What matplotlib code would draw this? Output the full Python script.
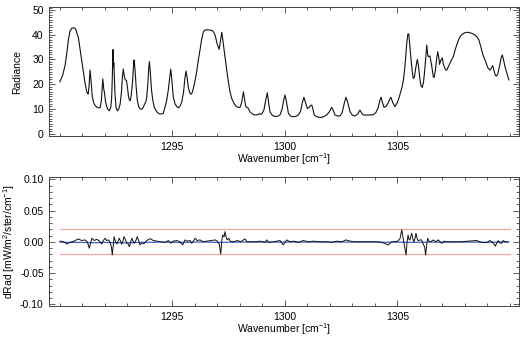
import numpy as np
import matplotlib
matplotlib.use('Agg')
import matplotlib.pyplot as plt
from matplotlib.ticker import MultipleLocator, FixedLocator

plt.rcParams['font.family'] = ['Liberation Sans', 'DejaVu Sans']
plt.rcParams['mathtext.fontset'] = 'custom'
plt.rcParams['mathtext.rm'] = 'Liberation Sans'
plt.rcParams['mathtext.default'] = 'regular'

# top panel: radiance spectrum
wn = [1290.00, 1290.12, 1290.23, 1290.30, 1290.38, 1290.45, 1290.53, 1290.62, 1290.70, 1290.78,
      1290.82, 1290.90, 1290.97, 1291.05, 1291.12, 1291.18, 1291.22, 1291.26, 1291.30, 1291.34,
      1291.38, 1291.44, 1291.50, 1291.57, 1291.65, 1291.72, 1291.79, 1291.84, 1291.88, 1291.91,
      1291.95, 1291.98, 1292.03, 1292.08, 1292.14, 1292.20, 1292.26, 1292.30, 1292.33, 1292.36,
      1292.38, 1292.40, 1292.45, 1292.50, 1292.56, 1292.62, 1292.68, 1292.74, 1292.78, 1292.82,
      1292.86, 1292.90, 1292.96, 1293.00, 1293.05, 1293.09, 1293.13, 1293.18, 1293.24, 1293.28,
      1293.30, 1293.34, 1293.39, 1293.44, 1293.50, 1293.57, 1293.64, 1293.70, 1293.76, 1293.82,
      1293.86, 1293.91, 1293.95, 1293.98, 1294.02, 1294.07, 1294.13, 1294.20, 1294.31, 1294.40,
      1294.50, 1294.60, 1294.68, 1294.75, 1294.82, 1294.88, 1294.93, 1294.98, 1295.04, 1295.12,
      1295.20, 1295.27, 1295.35, 1295.42, 1295.50, 1295.56, 1295.61, 1295.66, 1295.71, 1295.76,
      1295.82, 1295.88, 1295.93, 1296.00, 1296.08, 1296.15, 1296.23, 1296.30, 1296.38, 1296.45,
      1296.60, 1296.72, 1296.80, 1296.90, 1297.00, 1297.08, 1297.14, 1297.20, 1297.27, 1297.34,
      1297.42, 1297.49, 1297.56, 1297.64, 1297.74, 1297.83, 1297.92, 1298.01, 1298.08, 1298.16,
      1298.21, 1298.26, 1298.32, 1298.36, 1298.45, 1298.56, 1298.68, 1298.78, 1298.87, 1298.97,
      1299.07, 1299.15, 1299.22, 1299.28, 1299.34, 1299.45, 1299.56, 1299.68, 1299.79, 1299.88,
      1299.95, 1300.01, 1300.07, 1300.16, 1300.27, 1300.38, 1300.50, 1300.60, 1300.70, 1300.78,
      1300.85, 1300.92, 1301.00, 1301.08, 1301.14, 1301.20, 1301.26, 1301.31, 1301.42, 1301.56,
      1301.70, 1301.86, 1301.98, 1302.08, 1302.15, 1302.23, 1302.35, 1302.45, 1302.55, 1302.65,
      1302.72, 1302.80, 1302.90, 1303.00, 1303.12, 1303.25, 1303.34, 1303.42, 1303.49, 1303.70,
      1303.93, 1304.05, 1304.15, 1304.23, 1304.28, 1304.34, 1304.41, 1304.50, 1304.60, 1304.68,
      1304.72, 1304.80, 1304.90, 1305.00, 1305.08, 1305.14, 1305.20, 1305.27, 1305.34, 1305.42,
      1305.47, 1305.51, 1305.55, 1305.60, 1305.66, 1305.71, 1305.76, 1305.82, 1305.89, 1305.94,
      1306.01, 1306.06, 1306.11, 1306.16, 1306.20, 1306.26, 1306.31, 1306.35, 1306.38, 1306.45,
      1306.52, 1306.60, 1306.64, 1306.70, 1306.76, 1306.80, 1306.85, 1306.88, 1306.93, 1307.00,
      1307.05, 1307.09, 1307.15, 1307.20, 1307.27, 1307.34, 1307.42, 1307.49, 1307.56, 1307.64,
      1307.72, 1307.79, 1307.90, 1308.01, 1308.12, 1308.23, 1308.35, 1308.45, 1308.55, 1308.63,
      1308.70, 1308.75, 1308.82, 1308.90, 1308.97, 1309.04, 1309.12, 1309.18, 1309.24, 1309.30,
      1309.36, 1309.42, 1309.48, 1309.55, 1309.62, 1309.67, 1309.72, 1309.79, 1309.87, 1309.96]
rad = [21.0, 23.5, 27.5, 32.0, 38.0, 41.5, 42.6, 42.8, 42.3, 40.0,
       39.0, 34.0, 29.8, 24.5, 20.3, 17.5, 16.3, 16.0, 19.5, 25.7,
       22.0, 14.9, 12.5, 11.3, 10.7, 10.4, 10.5, 13.0, 18.5, 22.1,
       18.0, 16.8, 13.0, 11.0, 9.7, 9.2, 10.5, 14.0, 22.0, 34.0,
       27.0, 28.5, 16.0, 10.5, 9.2, 10.0, 12.0, 17.0, 23.0, 26.1,
       23.5, 21.8, 21.5, 19.0, 15.0, 13.6, 13.3, 16.0, 22.0, 28.5,
       29.8, 26.0, 19.0, 13.6, 11.0, 10.0, 9.8, 10.5, 11.8, 12.8,
       14.5, 20.0, 26.5, 29.1, 25.0, 18.0, 13.5, 10.5, 8.8, 8.0,
       7.9, 8.2, 10.9, 13.5, 17.6, 22.5, 26.0, 21.5, 14.9, 12.0,
       10.9, 10.4, 11.2, 12.8, 17.0, 22.5, 25.3, 22.5, 18.7, 16.8,
       15.9, 16.5, 18.2, 21.0, 25.0, 29.5, 33.8, 38.0, 41.2, 41.9,
       42.0, 41.8, 41.5, 39.9, 36.0, 34.1, 37.5, 41.0, 36.0, 31.1,
       25.5, 21.0, 17.0, 14.2, 12.2, 11.1, 10.6, 10.6, 12.5, 16.9,
       14.0, 11.1, 10.5, 10.4, 8.8, 7.9, 7.5, 7.6, 8.0, 7.8,
       9.5, 13.5, 16.5, 12.5, 8.8, 7.3, 6.9, 7.0, 7.6, 10.0,
       13.5, 15.6, 13.0, 8.2, 7.0, 6.8, 7.0, 7.5, 9.0, 12.5,
       14.7, 12.5, 10.2, 10.5, 11.3, 11.5, 9.5, 7.5, 6.8, 6.5,
       6.7, 7.5, 8.8, 10.6, 9.5, 7.5, 7.1, 7.1, 8.5, 12.5,
       14.7, 12.5, 8.8, 7.5, 7.1, 8.0, 9.5, 8.2, 7.5, 7.5,
       7.6, 8.5, 10.5, 13.5, 14.7, 12.5, 10.6, 11.0, 12.5, 14.3,
       14.6, 12.5, 10.9, 12.5, 14.5, 16.5, 18.3, 21.5, 27.0, 36.5,
       40.3, 40.3, 36.5, 31.1, 25.5, 22.3, 22.8, 26.5, 30.0, 27.5,
       21.7, 19.2, 18.7, 20.5, 23.7, 30.0, 35.8, 32.0, 31.1, 31.4,
       28.0, 23.0, 22.7, 26.0, 31.0, 33.1, 30.5, 28.0, 29.5, 30.6,
       28.0, 27.0, 25.8, 25.7, 27.0, 28.4, 30.0, 31.1, 33.5, 35.8,
       37.8, 39.2, 40.3, 40.8, 41.0, 40.8, 40.4, 39.9, 39.0, 37.9,
       35.5, 33.8, 31.5, 29.8, 28.0, 26.4, 25.7, 26.5, 27.5, 25.5,
       23.5, 23.3, 24.5, 27.5, 30.8, 31.8, 30.0, 27.0, 24.5, 21.7]

# bottom panel: radiance difference
dwn = [1290.01, 1290.16, 1290.31, 1290.45, 1290.63, 1290.82, 1290.97, 1291.12, 1291.22, 1291.31,
       1291.42, 1291.53, 1291.64, 1291.76, 1291.86, 1291.93, 1292.01, 1292.08, 1292.16, 1292.23,
       1292.29, 1292.33, 1292.38, 1292.41, 1292.47, 1292.53, 1292.59, 1292.64, 1292.71, 1292.75,
       1292.81, 1292.85, 1292.91, 1292.97, 1293.03, 1293.09, 1293.15, 1293.20, 1293.25, 1293.31,
       1293.39, 1293.44, 1293.50, 1293.56, 1293.65, 1293.74, 1293.86, 1294.01, 1294.16, 1294.31,
       1294.48, 1294.68, 1294.82, 1294.93, 1295.04, 1295.20, 1295.34, 1295.46, 1295.56, 1295.67,
       1295.79, 1295.86, 1295.93, 1296.01, 1296.11, 1296.23, 1296.38, 1296.53, 1296.71, 1296.90,
       1297.00, 1297.09, 1297.15, 1297.20, 1297.24, 1297.30, 1297.34, 1297.40, 1297.44, 1297.51,
       1297.57, 1297.72, 1297.89, 1298.04, 1298.23, 1298.31, 1298.45, 1298.68, 1298.90, 1299.12,
       1299.20, 1299.27, 1299.49, 1299.79, 1299.93, 1300.08, 1300.23, 1300.38, 1300.60, 1300.82,
       1301.04, 1301.27, 1301.56, 1301.86, 1302.08, 1302.31, 1302.53, 1302.72, 1302.90, 1303.12,
       1303.34, 1303.79, 1304.08, 1304.31, 1304.45, 1304.60, 1304.75, 1304.90, 1305.02, 1305.12,
       1305.20, 1305.25, 1305.31, 1305.39, 1305.43, 1305.48, 1305.52, 1305.56, 1305.64, 1305.70,
       1305.74, 1305.79, 1305.83, 1305.89, 1305.93, 1306.01, 1306.08, 1306.16, 1306.22, 1306.26,
       1306.31, 1306.35, 1306.41, 1306.48, 1306.60, 1306.72, 1306.82, 1306.97, 1307.08, 1307.20,
       1307.49, 1307.79, 1308.16, 1308.53, 1308.75, 1308.97, 1309.12, 1309.27, 1309.36, 1309.42,
       1309.49, 1309.56, 1309.63, 1309.71, 1309.79, 1309.86, 1309.93]
drad = [0.001, 0.000, -0.0035, -0.001, 0.001, 0.0045, 0.002, 0.003, 0.000, -0.0104,
        0.0056, 0.002, 0.004, 0.001, -0.0035, 0.002, 0.0056, 0.002, 0.003, -0.001,
        -0.008, -0.021, -0.004, 0.0082, 0.001, -0.0035, 0.001, 0.0056, 0.000, -0.004,
        0.002, 0.0082, 0.004, -0.002, -0.003, -0.0078, 0.000, 0.0056, 0.001, -0.0024,
        0.003, 0.0082, 0.002, -0.005, -0.002, -0.003, 0.002, 0.005, 0.002, 0.001,
        0.000, -0.001, 0.002, -0.002, 0.001, 0.002, 0.000, -0.005, 0.003, 0.001,
        0.002, -0.0024, 0.001, 0.0056, 0.002, 0.003, 0.000, 0.001, 0.002, 0.003,
        0.001, -0.004, -0.0195, 0.002, 0.011, 0.008, 0.0162, 0.006, 0.003, 0.0056,
        0.001, 0.000, 0.002, 0.000, 0.0045, 0.000, 0.000, 0.000, 0.001, -0.001,
        0.003, -0.001, 0.000, 0.002, -0.005, 0.003, 0.000, 0.001, -0.001, 0.002,
        0.000, 0.001, 0.000, 0.000, -0.001, 0.001, 0.000, 0.003, 0.001, 0.000,
        0.000, 0.000, 0.000, -0.001, -0.003, -0.005, 0.000, 0.000, 0.001, 0.005,
        0.019, 0.008, -0.005, -0.021, -0.002, 0.0109, 0.004, 0.0029, 0.0136, 0.004,
        0.000, 0.006, 0.0136, 0.004, 0.0018, 0.003, 0.0029, -0.004, -0.009, -0.021,
        -0.004, 0.0056, 0.001, 0.000, 0.003, 0.000, 0.003, -0.0024, 0.001, 0.000,
        0.000, 0.000, 0.001, 0.002, -0.001, -0.0014, 0.002, -0.002, -0.007, -0.002,
        0.002, -0.002, -0.0024, 0.002, 0.000, 0.000, 0.000]

# smoother reference difference (blue)
bwn = [1290.0, 1290.5, 1291.0, 1291.5, 1292.0, 1292.5, 1293.0, 1293.5, 1294.0, 1294.5,
       1295.0, 1295.5, 1296.0, 1296.5, 1297.0, 1297.5, 1298.0, 1298.5, 1299.0, 1299.5,
       1300.0, 1300.5, 1301.0, 1301.5, 1302.0, 1302.5, 1303.0, 1303.5, 1304.0, 1304.5,
       1305.0, 1305.5, 1306.0, 1306.5, 1307.0, 1307.5, 1308.0, 1308.5, 1309.0, 1309.5, 1309.95]
brad = [-0.0005, -0.001, -0.001, -0.0015, -0.001, -0.0015, -0.0015, -0.001, -0.0008, -0.0005,
        -0.0008, -0.001, -0.0005, -0.0005, -0.001, -0.0008, -0.0005, -0.0005, -0.0005, -0.0005,
        -0.0005, -0.0005, -0.0005, -0.0005, -0.0005, -0.0005, -0.0005, -0.0005, -0.0005, -0.0008,
        -0.0005, -0.001, -0.0008, -0.0005, -0.0008, -0.0005, -0.0005, -0.0005, -0.0008, -0.0005, -0.0005]

xticks = [1295, 1300, 1305]
limit = 0.02
xlim = (1289.53, 1310.39)

fig = plt.figure(figsize=(5.29, 3.37), dpi=100)
ax1 = fig.add_axes([0.0932, 0.5964, 0.887, 0.382])
ax2 = fig.add_axes([0.0932, 0.092, 0.887, 0.382])

ax1.plot(wn, rad, color='#111111', lw=0.8)
ax1.set_xlim(*xlim)
ax1.set_ylim(-1.0, 51.1)
ax1.yaxis.set_major_locator(MultipleLocator(10))
ax1.yaxis.set_minor_locator(MultipleLocator(1))
ax1.set_ylabel('Radiance', fontsize=7.5, labelpad=7)

ax2.plot([1290.0, 1310.0], [limit, limit], color='#f7a99a', lw=0.9)
ax2.plot([1290.0, 1310.0], [-limit, -limit], color='#f7a99a', lw=0.9)
ax2.plot(bwn, brad, color='#3a5fcd', lw=0.9)
ax2.plot(dwn, drad, color='#111111', lw=0.7)
ax2.set_xlim(*xlim)
ax2.set_ylim(-0.1027, 0.1032)
ax2.yaxis.set_major_locator(MultipleLocator(0.05))
ax2.yaxis.set_minor_locator(MultipleLocator(0.01))
ax2.yaxis.set_major_formatter(plt.FormatStrFormatter('%.2f'))
ax2.set_ylabel(r'dRad [mW/m$^{2}$/ster/cm$^{-1}$]', fontsize=7.5, labelpad=2)

for ax in (ax1, ax2):
    ax.xaxis.set_major_locator(FixedLocator(xticks))
    ax.xaxis.set_minor_locator(MultipleLocator(1))
    ax.set_xlabel(r'Wavenumber [cm$^{-1}$]', fontsize=7.5, labelpad=-0.5)
    ax.tick_params(which='both', direction='in', top=True, right=True,
                   labelsize=7.5, color='#444444', width=0.6, pad=4)
    ax.tick_params(which='major', length=4.5)
    ax.tick_params(which='minor', length=2.5)
    for s in ax.spines.values():
        s.set_color('#444444')
        s.set_linewidth(0.7)

fig.savefig('out.png', dpi=100)
